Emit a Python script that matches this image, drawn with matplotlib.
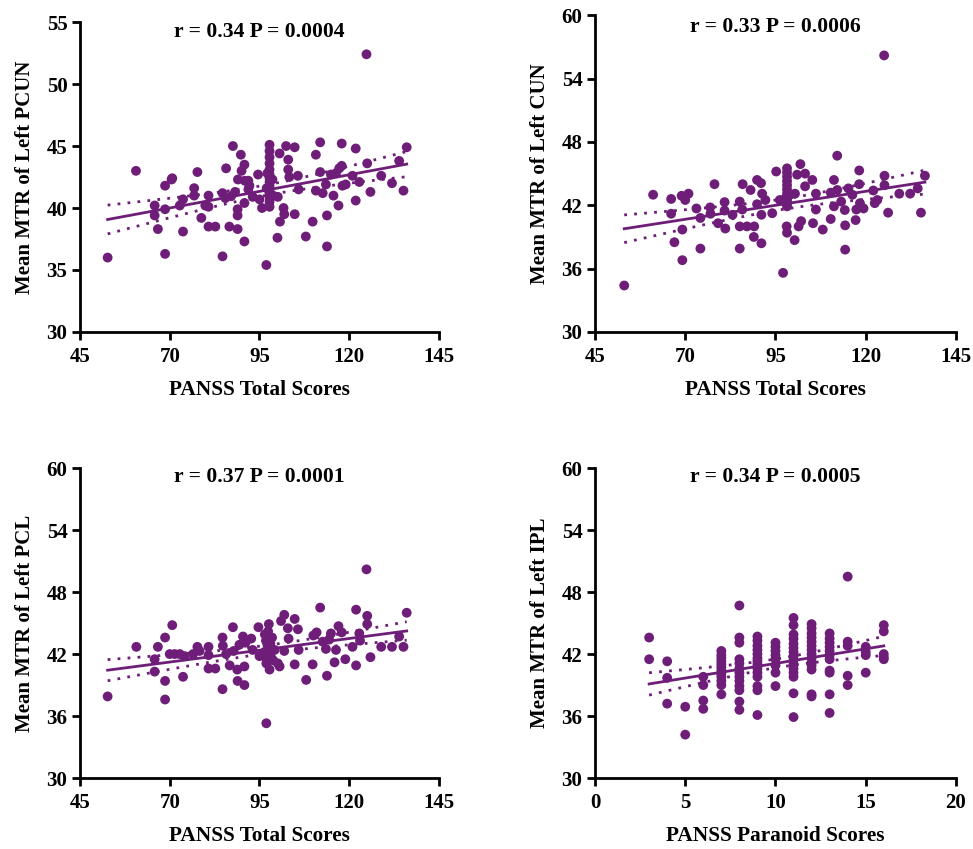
import matplotlib
matplotlib.use("Agg")
import matplotlib.pyplot as plt
import numpy as np

plt.rcParams["font.family"] = ["Liberation Serif", "DejaVu Serif"]
plt.rcParams["font.weight"] = "bold"

PURPLE = "#6e1e78"

# ── data ────────────────────────────────────────────────────
pcun_x = [52.7, 60.6, 65.8, 65.8, 66.7, 68.7, 68.7, 68.7, 70.5, 70.7, 72.8, 73.7, 73.7,
          76.8, 76.8, 77.7, 78.8, 79.9, 80.8, 80.8, 80.8, 82.7, 84.7, 84.7, 85.5, 85.7,
          86.6, 87.1, 87.6, 88.2, 88.9, 88.9, 88.9, 89.0, 89.8, 90.0, 90.8, 90.8, 90.8,
          90.9, 91.9, 91.9, 92.2, 93.1, 94.6, 95.0, 95.7, 96.9,
          97.8, 97.8, 97.8, 97.8, 97.8, 97.8, 97.8, 97.8, 97.8, 97.8, 97.8, 97.8, 97.8, 97.8,
          97.0, 98.6, 98.8, 97.2,
          100.1, 100.0, 100.6, 100.7, 101.7, 101.9, 102.4, 103.0, 103.0, 103.3, 104.8, 104.8,
          105.7, 105.9, 107.9, 109.8, 110.7, 110.7, 111.9, 111.9, 112.6, 113.5, 113.8, 113.8,
          114.9, 115.6, 116.3, 117.0, 117.2, 117.9, 117.9, 118.1, 119.0, 120.9, 121.8, 121.8,
          122.8, 124.8, 125.0, 125.9, 128.9, 131.9, 133.9, 135.1, 136.0]
pcun_y = [36.0, 43.0, 40.2, 39.4, 38.3, 41.8, 39.9, 36.3, 42.3, 42.4, 40.2, 40.7, 38.1,
          41.6, 41.0, 42.9, 39.2, 40.2, 41.0, 38.5, 40.1, 38.5, 36.1, 41.2, 40.8, 43.2,
          38.5, 40.95, 45.0, 41.3, 39.9, 39.4, 38.3, 42.3, 44.3, 43.0, 43.5, 40.4, 37.3,
          42.2, 42.2, 41.5, 41.8, 40.9, 42.7, 40.7, 40.0, 35.4,
          45.1, 44.6, 44.1, 43.6, 43.1, 42.7, 42.4, 42.1, 41.8, 41.5, 41.2, 40.9, 40.5, 40.1,
          41.6, 42.3, 41.0, 42.8,
          40.9, 37.6, 44.4, 38.9, 40.0, 39.5, 45.0, 43.9, 43.1, 42.5, 44.9, 39.5,
          42.6, 41.5, 37.7, 38.9, 44.3, 41.4, 45.3, 42.9, 41.2, 41.9, 36.9, 39.4,
          42.7, 41.0, 42.8, 40.2, 43.2, 45.2, 43.4, 41.8, 41.9, 42.6, 44.8, 40.6,
          42.1, 52.4, 43.6, 41.3, 42.6, 42.0, 43.8, 41.4, 44.9]

cun_x = [53.1, 61.1, 66.1, 66.1, 67.0, 69.0, 69.2, 69.2, 70.0, 70.9, 73.1, 74.2, 74.2,
         76.9, 77.0, 78.1, 79.1, 80.9, 80.9, 81.1, 83.1, 85.1, 85.1, 85.1, 85.9, 85.8,
         87.1, 88.1, 89.1, 89.0, 89.9, 89.9, 91.0, 91.1, 91.1, 91.3, 92.2, 94.1, 95.2,
         96.2, 97.1,
         98.2, 98.2, 98.2, 98.2, 98.2, 98.2, 98.2, 98.2, 98.2, 98.2, 98.2, 97.6, 99.0,
         98.2, 98.1, 100.3, 100.4, 101.0, 101.4, 101.9, 102.1, 103.2, 103.2, 105.2, 105.4,
         106.2, 106.2, 108.1, 110.3, 110.3, 111.2, 111.2, 112.1, 112.1, 113.2, 114.2,
         114.3, 114.3, 115.2, 116.3, 117.2, 117.4, 118.2, 118.2, 118.4, 119.4, 122.1,
         122.5, 123.2, 125.1, 125.2, 125.2, 126.2, 129.3, 132.3, 134.4, 135.3, 136.4]
cun_y = [34.4, 43.0, 42.6, 41.2, 38.5, 42.9, 39.7, 36.8, 42.5, 43.1, 41.7, 40.8, 37.9,
         41.8, 41.2, 44.0, 40.3, 42.3, 41.5, 39.8, 41.1, 40.0, 42.35, 37.9, 44.0, 41.6,
         40.0, 43.45, 40.0, 39.0, 44.4, 42.1, 44.1, 41.1, 38.4, 43.1, 42.5, 41.25, 45.2,
         42.5, 35.6,
         45.5, 45.1, 44.7, 44.3, 43.9, 43.5, 43.1, 42.8, 42.5, 42.2, 41.9, 42.6, 43.0,
         39.4, 40.0, 38.7, 43.1, 44.9, 40.0, 45.9, 40.5, 45.0, 43.8, 44.4, 40.3,
         43.1, 41.6, 39.7, 40.7, 43.2, 44.4, 41.9, 46.7, 43.45, 42.35, 41.55,
         37.8, 40.1, 43.6, 43.0, 40.6, 41.6, 45.3, 44.0, 42.2, 41.7, 43.4,
         42.2, 42.5, 56.2, 44.8, 43.9, 41.3, 43.1, 43.1, 43.6, 41.3, 44.8]

pcl_x = [52.7, 60.7, 65.8, 65.8, 66.7, 68.7, 68.7, 68.7, 70.0, 70.7, 71.4, 72.8, 73.7,
         74.2, 76.5, 77.7, 78.3, 80.8, 80.8, 80.8, 82.7, 84.7, 84.7, 84.8, 85.7, 86.7,
         87.6, 87.8, 88.8, 88.9, 89.4, 90.4, 90.8, 90.8, 91.1, 92.7, 93.1, 94.7, 95.0,
         96.9, 96.9, 97.6, 97.8,
         96.5, 96.8, 97.2, 97.5, 97.9, 98.2, 98.5, 96.4, 97.0, 98.0, 98.8, 97.4,
         99.2, 100.1, 100.6, 101.0, 101.9, 101.9, 102.9, 103.1, 104.8, 104.8, 105.7, 105.9,
         108.0, 109.8, 110.0, 110.9, 111.9, 112.6, 113.5, 113.8, 114.4, 114.9, 115.9,
         116.3, 117.0, 117.9, 118.9, 120.9, 121.9, 121.9, 122.8, 123.0, 124.8, 125.0,
         125.0, 125.9, 128.9, 131.9, 133.9, 135.1, 136.0]
pcl_y = [37.9, 42.7, 41.5, 40.3, 42.7, 43.6, 39.4, 37.6, 42.0, 44.8, 42.0, 42.0, 39.8,
         41.8, 42.0, 42.7, 42.3, 42.7, 40.6, 41.9, 40.6, 38.6, 43.6, 42.8, 42.0, 40.9,
         44.6, 42.3, 40.5, 39.4, 42.9, 43.7, 39.0, 40.8, 43.1, 43.5, 42.4, 44.6, 41.8,
         35.3, 41.1, 44.9, 40.5,
         43.9, 43.3, 42.9, 42.5, 42.1, 41.7, 43.6, 42.2, 41.5, 43.0, 41.4, 44.2,
         42.4, 41.1, 40.8, 45.2, 45.8, 42.3, 44.5, 43.5, 45.4, 41.0, 44.4, 42.4,
         39.5, 41.0, 43.8, 44.1, 46.5, 43.2, 42.5, 39.9, 43.4, 44.0, 41.2,
         42.4, 44.7, 44.1, 41.5, 42.7, 46.3, 40.9, 44.0, 43.3, 50.2, 45.7,
         44.9, 41.7, 42.7, 42.7, 43.7, 42.7, 46.0]

ipl_x = ([3] * 2 + [4] * 3 + [5] * 2 + [6] * 4 + [7] * 12 + [8] * 13 + [9] * 14 +
         [10] * 8 + [11] * 15 + [12] * 14 + [13] * 11 + [14] * 5 + [15] * 4 + [16] * 5)
ipl_y = [43.6, 41.5,
         41.3, 39.7, 37.2,
         36.9, 34.2,
         39.8, 39.0, 37.5, 36.7,
         42.3, 41.9, 41.6, 41.3, 41.0, 40.7, 40.4, 40.1, 39.8, 39.4, 39.0, 38.1,
         46.7, 43.6, 43.1, 41.5, 41.1, 40.6, 40.2, 39.8, 39.4, 38.9, 38.5, 37.4, 36.6,
         43.7, 43.3, 42.8, 42.4, 42.0, 41.6, 41.3, 41.0, 40.6, 40.2, 39.8, 38.9, 38.5, 36.1,
         43.1, 42.7, 42.3, 41.9, 41.5, 40.9, 40.2, 38.9,
         45.5, 44.8, 43.9, 43.5, 43.0, 42.6, 42.2, 41.8, 41.4, 41.0, 40.6, 40.2, 39.8, 38.2, 35.9,
         44.9, 44.5, 44.0, 43.6, 43.2, 42.8, 42.4, 42.0, 41.6, 41.2, 40.9, 40.5, 38.1, 37.9,
         44.0, 43.5, 43.1, 42.7, 42.3, 41.9, 41.5, 40.4, 40.2, 38.1, 36.3,
         49.5, 43.2, 42.8, 39.9, 39.0,
         42.7, 42.2, 41.9, 40.2,
         44.8, 44.2, 42.0, 41.7, 41.5]

titles = ["r = 0.34 P = 0.0004", "r = 0.33 P = 0.0006",
          "r = 0.37 P = 0.0001", "r = 0.34 P = 0.0005"]
ylabels = ["Mean MTR of Left PCUN", "Mean MTR of Left CUN",
           "Mean MTR of Left PCL", "Mean MTR of Left IPL"]
xlabels = ["PANSS Total Scores", "PANSS Total Scores",
           "PANSS Total Scores", "PANSS Paranoid Scores"]
xticks_total = [45, 70, 95, 120, 145]
xticks_para = [0, 5, 10, 15, 20]
yticks_pcun = [30, 35, 40, 45, 50, 55]
yticks_mtr = [30, 36, 42, 48, 54, 60]


def fit_with_ci(x, y):
    # 线性回归 + 95% 均值置信带
    x = np.asarray(x, float); y = np.asarray(y, float)
    n = len(x)
    b, a = np.polyfit(x, y, 1)
    xs = np.linspace(x.min(), x.max(), 100)
    yhat = a + b * xs
    resid = y - (a + b * x)
    s = np.sqrt(np.sum(resid ** 2) / (n - 2))
    se = s * np.sqrt(1 / n + (xs - x.mean()) ** 2 / np.sum((x - x.mean()) ** 2))
    t = 1.98
    return xs, yhat, yhat - t * se, yhat + t * se


fig = plt.figure(figsize=(9.73, 8.49), dpi=100)
rects = [(0.0822, 0.609, 0.369, 0.365), (0.6115, 0.609, 0.371, 0.373),
         (0.0822, 0.0836, 0.369, 0.365), (0.6115, 0.0836, 0.371, 0.365)]
panels = [(pcun_x, pcun_y, xticks_total, yticks_pcun),
          (cun_x, cun_y, xticks_total, yticks_mtr),
          (pcl_x, pcl_y, xticks_total, yticks_mtr),
          (ipl_x, ipl_y, xticks_para, yticks_mtr)]
title_y = [0.968, 0.962, 0.971, 0.971]

for i, (rect, (x, y, xt, yt)) in enumerate(zip(rects, panels)):
    ax = fig.add_axes(rect)
    ax.scatter(x, y, s=50, color=PURPLE, edgecolors="none", zorder=3)
    xs, yhat, lo, hi = fit_with_ci(x, y)
    ax.plot(xs, yhat, color=PURPLE, lw=2, zorder=4)
    ax.plot(xs, lo, color=PURPLE, lw=2, ls=(0, (1, 2.6)), zorder=4)
    ax.plot(xs, hi, color=PURPLE, lw=2, ls=(0, (1, 2.6)), zorder=4)

    ax.set_xlim(xt[0], xt[-1]); ax.set_ylim(yt[0], yt[-1])
    ax.set_xticks(xt); ax.set_yticks(yt)
    for sp in ("top", "right"):
        ax.spines[sp].set_visible(False)
    for sp in ("left", "bottom"):
        ax.spines[sp].set_linewidth(2)
    ax.tick_params(direction="out", length=6, width=2, labelsize=15, pad=3)
    ax.tick_params(axis="x", pad=5)
    ax.set_xlabel(xlabels[i], fontsize=15.3, fontweight="bold", labelpad=9)
    ax.set_ylabel(ylabels[i], fontsize=15, fontweight="bold", labelpad=8)
    ax.text(0.5, title_y[i], titles[i], transform=ax.transAxes, ha="center",
            va="center", fontsize=15.6, fontweight="bold")

fig.savefig("out.png", dpi=100, facecolor="white")
